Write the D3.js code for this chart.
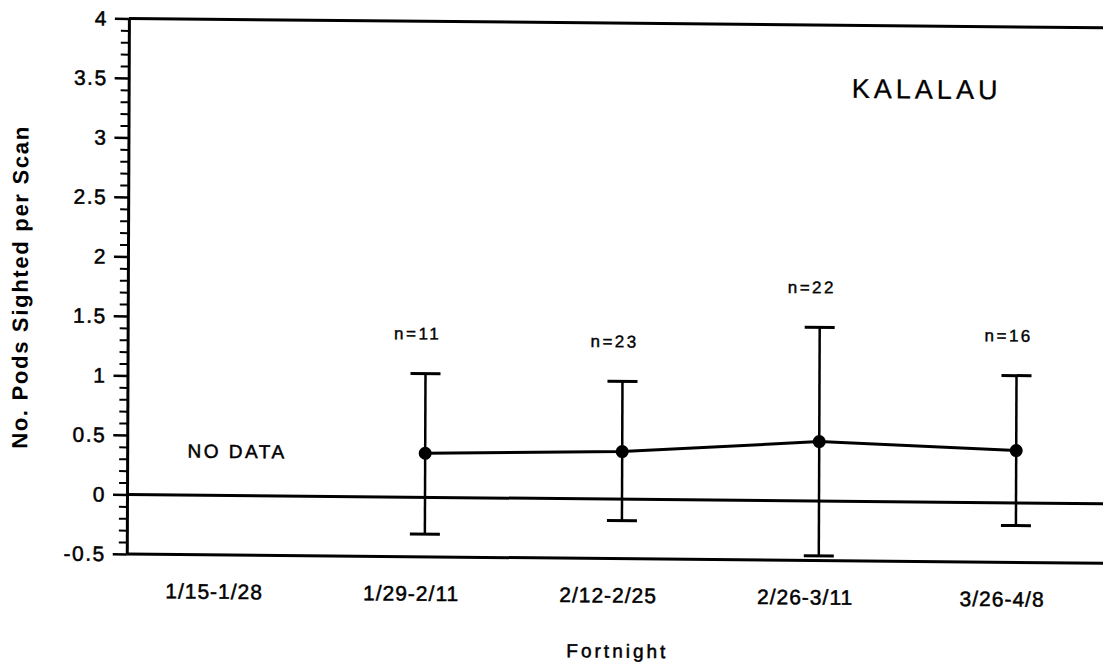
<!DOCTYPE html>
<html>
<head>
<meta charset="utf-8">
<script src="https://cdn.jsdelivr.net/npm/d3@7"></script>
<style>
  html, body { margin: 0; padding: 0; background: #fff; }
  svg { display: block; }
  text { font-family: "Liberation Sans", Arial, Helvetica, sans-serif; fill: #000; }
</style>
</head>
<body>
<script>
// ---- data ----
const categories = ["1/15-1/28", "1/29-2/11", "2/12-2/25", "2/26-3/11", "3/26-4/8"];
const means = [null, 0.37, 0.40, 0.50, 0.44];
const upper = [null, 1.04, 0.99, 1.46, 1.07];
const lower = [null, -0.31, -0.18, -0.46, -0.19];
const sampleSizes = [null, 11, 23, 22, 16];
const yTicks = [-0.5, 0, 0.5, 1, 1.5, 2, 2.5, 3, 3.5, 4];
const yTickLabels = ["-0.5", "0", "0.5", "1", "1.5", "2", "2.5", "3", "3.5", "4"];
const siteLabel = "KALALAU";
const noDataLabel = "NO DATA";
const xTitle = "Fortnight";
const yTitle = "No. Pods Sighted per Scan";

const W = 1103, H = 672;
const svg = d3.select("body").append("svg").attr("width", W).attr("height", H);
svg.append("rect").attr("width", W).attr("height", H).attr("fill", "#fff");

// slight skew of the scanned page
const g = svg.append("g").attr("transform", "matrix(1,0.0095,-0.004,1,1.984,-1.2065)");

const axisX = 127;
const x = d3.scalePoint().domain(categories).range([228, 1016]);
const y = d3.scaleLinear().domain([-0.5, 4]).range([554, 18.5]);

const rows = categories.map((c, i) => ({ c, m: means[i], hi: upper[i], lo: lower[i], n: sampleSizes[i] }));
const valid = rows.filter(r => r.m !== null);

// minor ticks
const minor = d3.range(-5, 41).map(i => i / 10).filter(v => Math.abs(v * 2 - Math.round(v * 2)) > 1e-6);
const gMinor = g.append("g").attr("transform", `translate(${axisX},0)`)
  .call(d3.axisLeft(y).tickValues(minor).tickSize(8).tickSizeOuter(0).tickFormat(""));
gMinor.select(".domain").remove();
gMinor.selectAll(".tick line").attr("stroke", "#000").attr("stroke-width", 2);

// major ticks + labels
const gMajor = g.append("g").attr("transform", `translate(${axisX},0)`)
  .call(d3.axisLeft(y).tickValues(yTicks).tickSize(14).tickSizeOuter(0).tickPadding(7)
    .tickFormat(d => yTickLabels[yTicks.indexOf(d)]));
gMajor.select(".domain").attr("stroke", "#000").attr("stroke-width", 3);
gMajor.selectAll(".tick line").attr("stroke", "#000").attr("stroke-width", 2.5);
gMajor.selectAll(".tick text")
  .attr("font-size", 21).attr("letter-spacing", 1.5)
  .attr("font-family", "Liberation Sans, Arial, sans-serif")
  .attr("stroke", "#000").attr("stroke-width", 0.5);

// horizontal frame lines (top, zero, bottom)
g.selectAll("line.hline").data([4, 0, -0.5]).join("line")
  .attr("class", "hline")
  .attr("x1", axisX).attr("x2", W + 20)
  .attr("y1", d => y(d)).attr("y2", d => y(d))
  .attr("stroke", "#000").attr("stroke-width", 3);

// x axis labels (no visible ticks)
const gx = g.append("g").attr("transform", `translate(0,${y(-0.5)})`)
  .call(d3.axisBottom(x).tickSize(0).tickPadding(44));
gx.select(".domain").remove();
gx.selectAll(".tick text")
  .attr("font-size", 21).attr("letter-spacing", 1)
  .attr("font-family", "Liberation Sans, Arial, sans-serif")
  .attr("dy", 0).attr("dx", -14)
  .attr("stroke", "#000").attr("stroke-width", 0.5);

// error bars
const capW = 15;
const eb = g.append("g");
eb.selectAll("line.v").data(valid).join("line")
  .attr("x1", d => x(d.c)).attr("x2", d => x(d.c))
  .attr("y1", d => y(d.lo)).attr("y2", d => y(d.hi))
  .attr("stroke", "#000").attr("stroke-width", 2.5);
eb.selectAll("line.cu").data(valid).join("line")
  .attr("x1", d => x(d.c) - capW).attr("x2", d => x(d.c) + capW)
  .attr("y1", d => y(d.hi)).attr("y2", d => y(d.hi))
  .attr("stroke", "#000").attr("stroke-width", 3);
eb.selectAll("line.cl").data(valid).join("line")
  .attr("x1", d => x(d.c) - capW).attr("x2", d => x(d.c) + capW)
  .attr("y1", d => y(d.lo)).attr("y2", d => y(d.lo))
  .attr("stroke", "#000").attr("stroke-width", 3);

// mean line
g.append("path").datum(valid)
  .attr("d", d3.line().x(d => x(d.c)).y(d => y(d.m)))
  .attr("fill", "none").attr("stroke", "#000").attr("stroke-width", 3);

// markers
g.selectAll("circle.pt").data(valid).join("circle")
  .attr("cx", d => x(d.c)).attr("cy", d => y(d.m)).attr("r", 6.5).attr("fill", "#000");

// n labels
g.selectAll("text.n").data(valid).join("text")
  .attr("x", d => x(d.c) - 8).attr("y", d => y(d.hi) - 34)
  .attr("text-anchor", "middle").attr("font-size", 17).attr("letter-spacing", 2.5)
  .attr("stroke", "#000").attr("stroke-width", 0.4)
  .text(d => "n=" + d.n);

// NO DATA
g.append("text").attr("x", x(categories[0]) + 9).attr("y", 457)
  .attr("text-anchor", "middle").attr("font-size", 19).attr("letter-spacing", 2.5)
  .attr("stroke", "#000").attr("stroke-width", 0.5)
  .text(noDataLabel);

// site label
g.append("text").attr("x", 925).attr("y", 91)
  .attr("text-anchor", "middle").attr("font-size", 27).attr("letter-spacing", 4)
  .attr("stroke", "#000").attr("stroke-width", 0.3)
  .text(siteLabel);

// axis titles
g.append("text").attr("x", 618).attr("y", 653)
  .attr("text-anchor", "middle").attr("font-size", 19).attr("letter-spacing", 3)
  .attr("stroke", "#000").attr("stroke-width", 0.5)
  .text(xTitle);

g.append("text").attr("transform", "translate(27,288) rotate(-90)")
  .attr("text-anchor", "middle").attr("font-size", 22).attr("font-weight", "bold")
  .attr("letter-spacing", 1.7)
  .text(yTitle);
</script>
</body>
</html>
